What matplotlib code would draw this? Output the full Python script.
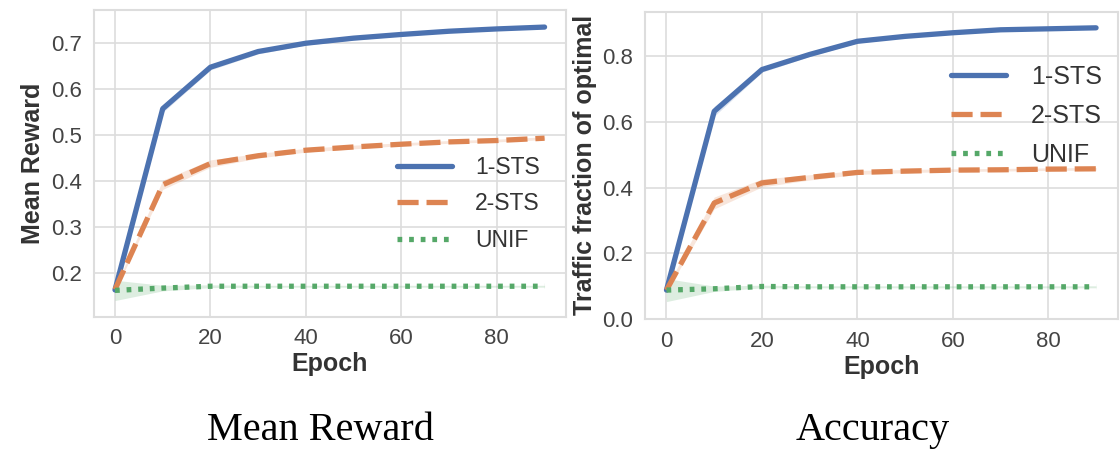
import numpy as np
import matplotlib
matplotlib.use('Agg')
import matplotlib.pyplot as plt
import seaborn as sns

sns.set_style('whitegrid')
plt.rcParams['font.family'] = ['Liberation Sans', 'DejaVu Sans']

epochs = [0, 10, 20, 30, 40, 50, 60, 70, 80, 90]

# mean reward panel
reward_1sts = [0.164, 0.557, 0.647, 0.681, 0.699, 0.710, 0.718, 0.725, 0.730, 0.734]
reward_2sts = [0.165, 0.392, 0.438, 0.455, 0.467, 0.474, 0.480, 0.485, 0.488, 0.493]
reward_unif = [0.163, 0.168, 0.172, 0.172, 0.172, 0.172, 0.172, 0.172, 0.172, 0.172]
reward_1sts_ci = [0.004, 0.008, 0.006, 0.005, 0.004, 0.004, 0.003, 0.003, 0.003, 0.003]
reward_2sts_ci = [0.004, 0.010, 0.008, 0.005, 0.004, 0.004, 0.003, 0.003, 0.003, 0.003]
reward_unif_ci = [0.022, 0.006, 0.003, 0.002, 0.002, 0.002, 0.002, 0.002, 0.002, 0.002]

# accuracy panel
acc_1sts = [0.088, 0.632, 0.759, 0.805, 0.845, 0.860, 0.871, 0.880, 0.883, 0.886]
acc_2sts = [0.088, 0.353, 0.414, 0.431, 0.446, 0.450, 0.453, 0.454, 0.456, 0.457]
acc_unif = [0.088, 0.092, 0.099, 0.098, 0.098, 0.098, 0.098, 0.098, 0.098, 0.098]
acc_1sts_ci = [0.006, 0.015, 0.008, 0.006, 0.005, 0.004, 0.004, 0.003, 0.003, 0.003]
acc_2sts_ci = [0.006, 0.018, 0.012, 0.008, 0.006, 0.005, 0.004, 0.004, 0.004, 0.004]
acc_unif_ci = [0.035, 0.008, 0.004, 0.003, 0.003, 0.003, 0.003, 0.003, 0.003, 0.003]

labels = ['1-STS', '2-STS', 'UNIF']
colors = ['#4C72B0', '#DD8452', '#55A868']
dashes = [(None, None), (4, 1.5), (0.9, 1.3)]

fig = plt.figure(figsize=(11.2, 4.49), dpi=100)
ax1 = fig.add_axes([0.0835, 0.2947, 0.4219, 0.683])
ax2 = fig.add_axes([0.5759, 0.2895, 0.4219, 0.6844])


def draw(ax, series, cis, ylabel, ylim, yticks, leg_anchor, leg_size):
    x = np.array(epochs)
    for s, ci, lab, c, d in zip(series, cis, labels, colors, dashes):
        s = np.array(s)
        ci = np.array(ci)
        ax.fill_between(x, s - ci, s + ci, color=c, alpha=0.2, linewidth=0)
        if d[0] is None:
            ax.plot(x, s, color=c, lw=3.8, label=lab)
        else:
            ax.plot(x, s, color=c, lw=3.8, label=lab, dashes=d)
    ax.set_xlim(-4.5, 94.5)
    ax.set_ylim(*ylim)
    ax.set_xticks([0, 20, 40, 60, 80])
    ax.set_yticks(yticks)
    ax.tick_params(labelsize=16, colors='#444444', pad=5)
    ax.set_xlabel('Epoch', fontsize=18, fontweight='bold', color='#333333', labelpad=2)
    ax.set_ylabel(ylabel, fontsize=18, fontweight='bold', color='#333333', labelpad=4)
    for sp in ax.spines.values():
        sp.set_color('#dddddd')
        sp.set_linewidth(1.5)
    ax.grid(color='#dddddd', lw=1.2)
    ax.legend(loc='upper left', bbox_to_anchor=leg_anchor, frameon=False, fontsize=leg_size,
              borderpad=0, borderaxespad=0, handlelength=55 / (leg_size * 100 / 72),
              handletextpad=1.0, labelspacing=0.6, labelcolor='#333333')


draw(ax1, [reward_1sts, reward_2sts, reward_unif],
     [reward_1sts_ci, reward_2sts_ci, reward_unif_ci],
     'Mean Reward', (0.106, 0.771), [0.2, 0.3, 0.4, 0.5, 0.6, 0.7], (0.642, 0.525), 16.5)
draw(ax2, [acc_1sts, acc_2sts, acc_unif],
     [acc_1sts_ci, acc_2sts_ci, acc_unif_ci],
     'Traffic fraction of optimal', (0.0, 0.935), [0.0, 0.2, 0.4, 0.6, 0.8], (0.648, 0.827), 18)

fig.text(320 / 1120, 0.02, 'Mean Reward', family='Liberation Serif', fontsize=29,
         ha='center', va='baseline', color='black')
fig.text(873 / 1120, 0.02, 'Accuracy', family='Liberation Serif', fontsize=29,
         ha='center', va='baseline', color='black')

fig.savefig('out.png', dpi=100)
